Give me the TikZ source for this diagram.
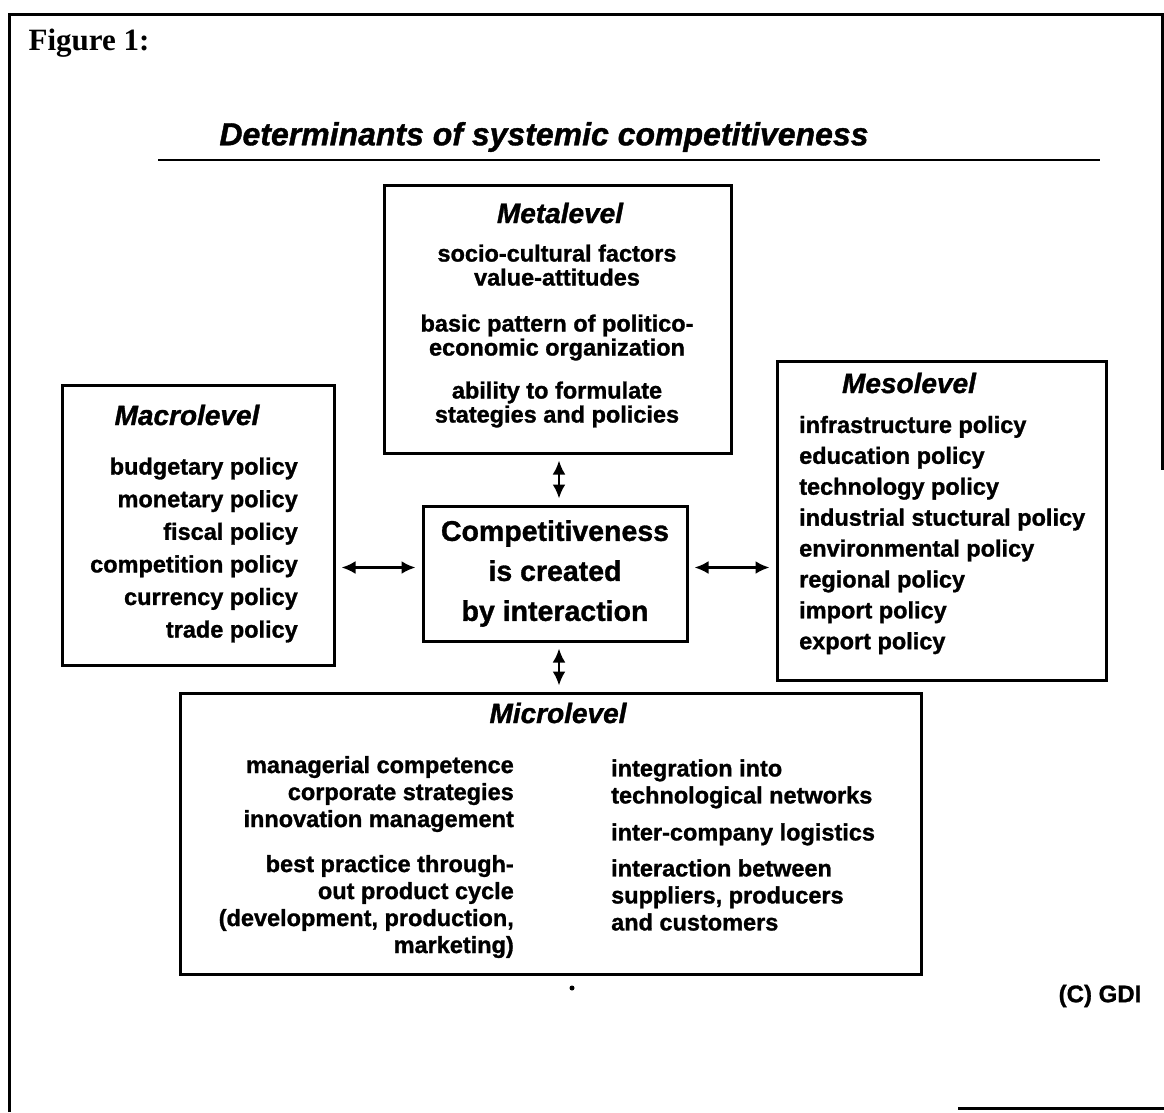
\documentclass[tikz,border=0pt]{standalone}
\usepackage{fontspec}
\setmainfont{Liberation Sans}[BoldFeatures = {FakeBold = 1.2}, BoldItalicFeatures = {FakeBold = 1.2}]
\newfontfamily\figfont{Liberation Serif}
\usetikzlibrary{arrows.meta}

\begin{document}
\begin{tikzpicture}[x = 1pt, y = -1pt,
  box/.style = {draw, line width = 3pt, inner sep = 0pt},
  heading/.style = {font = \bfseries\itshape\fontsize{28}{30}\selectfont, inner sep = 0pt},
  entry/.style = {font = \bfseries\fontsize{23.5}{#1}\selectfont, inner sep = 0pt},
  link/.style = {line width = 2.6pt, shorten < = 6pt, shorten > = 6pt,
    {Latex[length = 14pt, width = 13pt]}-{Latex[length = 14pt, width = 13pt]}}]
  \useasboundingbox (0,0) rectangle (1164,1112);
  \draw[line width = 3pt] (9,1112) -- (9,14) -- (1162,14) -- (1162,470);
  \draw[line width = 3pt] (958,1108) -- (1164,1108);

  \node[font = \figfont\bfseries\fontsize{31}{33}\selectfont, inner sep = 0pt] (figlabel) at (89,43) {Figure 1:};
  \node[font = \bfseries\itshape\fontsize{32}{34}\selectfont] (title) at (544,137) {Determinants of systemic competitiveness};
  \draw[line width = 2.6pt] (158,160) -- (1100,160);

  \node[box, minimum width = 347pt, minimum height = 268pt] (meta) at (557.5,319) {};
  \node[heading] (metahead) at (560,213) {Metalevel};
  \node[entry = 24, align = center] (metatext) at (557,336)
    {socio-cultural factors\\value-attitudes\\[22pt]basic pattern of politico-\\economic organization\\[19pt]ability to formulate\\stategies and policies};

  \node[box, minimum width = 272pt, minimum height = 280pt] (macro) at (198,525) {};
  \node[heading] (macrohead) at (187,415) {Macrolevel};
  \node[entry = 32.6, align = right, anchor = east] (macrotext) at (298,550)
    {budgetary policy\\monetary policy\\fiscal policy\\competition policy\\currency policy\\trade policy};

  \node[box, minimum width = 264pt, minimum height = 135pt, align = center,
    font = \bfseries\fontsize{28.5}{40}\selectfont] (core) at (555,573.5)
    {Competitiveness\\is created\\by interaction};

  \node[box, minimum width = 329pt, minimum height = 319pt] (meso) at (941.5,520.5) {};
  \node[heading] (mesohead) at (909,383) {Mesolevel};
  \node[entry = 30.9, align = left, anchor = west] (mesotext) at (799,535)
    {infrastructure policy\\education policy\\technology policy\\industrial stuctural policy\\environmental policy\\regional policy\\import policy\\export policy};

  \node[box, minimum width = 741pt, minimum height = 281pt] (micro) at (550.5,833.5) {};
  \node[heading] (microhead) at (558,713) {Microlevel};
  \node[entry = 27, align = right, anchor = east] (microleft) at (514,857)
    {managerial competence\\corporate strategies\\innovation management\\[18pt]best practice through-\\out product cycle\\(development, production,\\marketing)};
  \node[entry = 27, align = left, anchor = west] (microright) at (611,845)
    {integration into\\technological networks\\[10pt]inter-company logistics\\[9pt]interaction between\\suppliers, producers\\and customers};

  \draw[link] ([xshift = 1.5pt]meta.south) -- ([xshift = 1.5pt]meta.south |- core.north);
  \draw[link] ([xshift = 4pt]core.south) -- ([xshift = 4pt]core.south |- micro.north);
  \draw[link] ([yshift = 6pt]core.west) -- ([yshift = 6pt]core.west -| macro.east);
  \draw[link] ([yshift = 6pt]core.east) -- ([yshift = 6pt]core.east -| meso.west);

  \fill (572,988) circle (2.5pt);
  \node[font = \bfseries\fontsize{24}{26}\selectfont] (credit) at (1100,996) {(C) GDI};
\end{tikzpicture}
\end{document}
